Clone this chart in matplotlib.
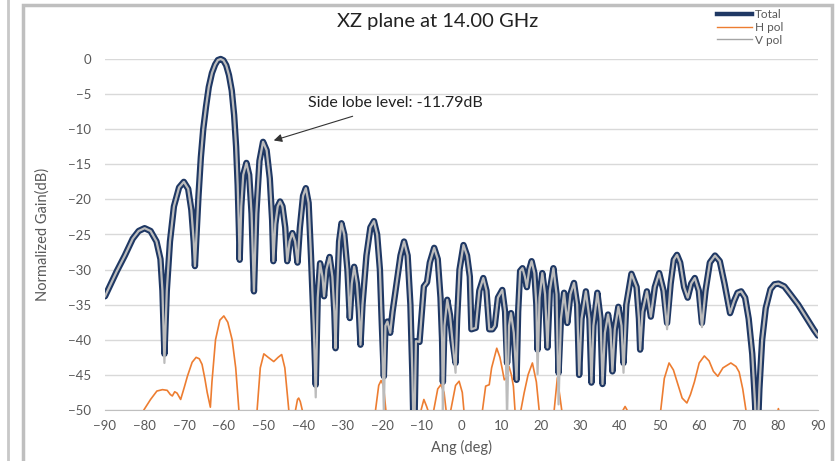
import matplotlib
matplotlib.use("Agg")
import matplotlib.pyplot as plt
from matplotlib.patches import Rectangle
from matplotlib.lines import Line2D

plt.rcParams['font.family'] = ['Lato', 'DejaVu Sans']

# ---------------- data ----------------
total_ang = [-90, -88.5, -87, -85, -83, -81.5, -80, -78.5, -77, -76, -75.5, -75, -74.4, -73.6,
             -72.6, -71.3, -70.1, -69, -68.2, -67.6, -67.3, -66.9, -66.4, -65.8, -65.2, -64.5,
             -63.8, -63, -62.2, -61.5, -60.8, -60.1, -59.4, -58.7, -58, -57.4, -56.9, -56.5,
             -56.2, -56, -55.6, -55.1, -54.3,
             -53.6, -53, -52.4, -51.8, -51, -50.1, -49.2, -48.4, -47.8, -47.5, -47, -46.4,
             -45.8, -45.2, -44.5, -44, -43.4, -42.7, -42, -41.4, -40.8, -40, -39.3, -38.6,
             -38, -37.3, -36.8, -36.3, -35.7, -35.1, -34.7, -34.1, -33.3, -32.6, -32.1, -31.8,
             -31.4, -30.9, -30.3, -29.6, -28.8, -28.2, -27.7, -27.1, -26.4, -25.9, -25.5, -25,
             -24, -23, -22.1, -21.3, -20.6, -20.1, -19.6, -19.2, -18.7, -18, -17.4, -16.4,
             -15.4, -14.5, -13.6, -12.9, -12.4, -12.0, -11.5, -10.6, -10.0, -9.5, -8.7, -8.0,
             -6.9, -6.0, -5.3, -4.9, -4.7, -4.3, -3.6, -2.9, -2.3, -1.5, -1.1, -0.5, 0.5, 1.4,
             2.1, 2.5, 3.6, 4.5, 5.5, 6.3, 7.0, 7.8, 8.4, 9.2, 10.3, 11.0, 11.5, 12.0, 12.5,
             13.2, 13.9, 14.3, 14.8, 15.4, 16.0, 16.5, 17.1, 17.7, 18.4, 18.9, 19.2, 19.7,
             20.4, 21.1, 21.7, 22.3, 23.2, 24.0, 24.5, 25.1, 25.9, 26.7, 27.5, 28.4, 29.2,
             29.7, 30.3, 31.4, 32.3, 32.8, 33.3, 34.3, 35.1, 35.6, 36.2, 37.0, 37.6, 38.1,
             38.7, 39.6, 40.4, 40.9, 41.6, 42.9, 44.2, 44.8, 45.1, 45.7, 46.8, 47.8, 48.8,
             49.9, 51.0, 51.9, 52.8, 53.6, 54.4, 55.2, 56.2, 57.1, 58.0, 58.9, 59.9, 60.7,
             61.6, 62.7, 64.0, 65.2, 66.4, 67.8, 68.8, 69.7, 70.6, 71.6, 72.5, 73.4, 74.1,
             74.6, 75.2, 75.9, 76.8, 78.0, 79.0, 80.0, 81.5, 83.0, 85.0, 87.0, 89.0, 90.0]
total_db = [-33.8, -32.0, -30.2, -28.0, -25.6, -24.5, -24.1, -24.5, -26.0, -28.5, -33.0, -42.0,
            -33.0, -26.0, -21.0, -18.3, -17.5, -18.5, -21.5, -26.0, -29.5, -25.0, -19.5, -14.0,
            -10.0, -6.8, -4.0, -2.0, -0.8, -0.15, 0.0, -0.2, -0.9, -2.3, -4.5, -8.0, -12.5,
            -18.0, -24.0, -28.6, -21.0, -16.5,
            -14.8, -16.5, -22.0, -33.1, -22.0, -14.5, -11.8, -13.0, -17.0, -23.0, -28.8, -23.5,
            -21.0, -20.3, -21.0, -24.0, -28.8, -26.0, -24.8, -26.0, -29.0, -24.0, -19.5, -18.4,
            -20.5, -28.0, -38.0, -46.4, -34.0, -29.1, -31.0, -33.8, -30.0, -28.2, -31.0, -36.0,
            -41.2, -33.0, -26.0, -23.4, -25.0, -30.0, -36.9, -32.0, -29.6, -32.0, -36.0, -40.7,
            -35.0, -28.0, -24.0, -23.1, -25.0, -30.0, -38.0, -45.2, -38.0, -37.4, -39.0, -36.0,
            -32.0, -28.0, -26.0, -28.0, -35.0, -45.0, -56.0, -40.2, -40.3, -36.0, -32.4, -31.8,
            -29.0, -26.9, -28.5, -34.0, -40.0, -46.0, -38.0, -34.3, -36.5, -40.0, -43.3, -37.0,
            -30.0, -26.5, -28.0, -31.0, -38.5, -38.3, -33.0, -31.2, -33.0, -38.5, -38.5, -38.0,
            -34.0, -32.9, -36.0, -43.3, -38.0, -36.2, -39.0, -45.7, -36.0, -30.2, -29.8, -31.0,
            -32.5, -30.0, -28.8, -30.5, -35.0, -41.4, -34.0, -30.5, -33.5, -41.1, -33.0, -29.8,
            -33.5, -44.7, -37.0, -33.3, -37.6, -33.5, -31.9, -35.0, -45.0, -37.0, -33.1, -37.0,
            -46.1, -38.0, -33.3, -37.0, -46.3, -39.0, -36.4, -38.5, -44.5, -38.5, -35.3, -38.0,
            -43.3, -35.0, -30.6, -32.5, -37.0, -41.4, -36.0, -33.1, -36.7, -32.5, -30.5, -33.0,
            -37.6, -32.0, -28.6, -27.9, -29.0, -32.5, -34.0, -32.0, -31.2, -33.0, -37.6, -33.0,
            -29.0, -28.0, -28.8, -32.0, -36.2, -34.5, -33.3, -33.1, -34.0, -37.0, -42.0, -49.0,
            -56.0, -47.0, -40.0, -35.5, -32.8, -32.1, -32.0, -32.4, -33.5, -35.0, -36.8, -38.6,
            -39.4]

# V pol follows Total except at some nulls, where it dips deeper
vpol_null_ang = [-75, -36.8, -19.6, -4.7, -1.5, 11.5, 19.2, 24.5, 40.9, 51.9, 60.7]
vpol_null_db = [-43.3, -48.2, -50.5, -51.0, -44.7, -51.0, -44.9, -49.2, -44.7, -38.5, -38.2]
vpol_null = dict(zip(vpol_null_ang, vpol_null_db))
vpol_db = [vpol_null.get(a, d) for a, d in zip(total_ang, total_db)]

hpol_ang = [-82, -80.2, -78.5, -76.9, -75.5, -74.3, -73.5, -73, -72.4, -71.8, -70.9, -70, -69.2,
            -68, -67, -66.2, -65.5, -64.8, -64.2, -63.4, -63, -62.1, -61, -60, -59, -57.9, -57,
            -56.2, -55.8, -52, -51.6, -50.8, -49.9, -48.8, -47.4, -46.3, -45.4, -44.6, -43.6,
            -43.3, -42.2, -41.9, -41.4, -41.1, -40.7, -40.2, -39.8, -22, -21.7, -20.9, -20.3,
            -19.7, -19.1, -18.8, -10.6, -10.2, -9.5, -8.8, -8.5, -8.2, -7.4, -7, -6, -5.2, -4.4,
            -3.9, -3.6, -3, -2.7, -1.5, -0.6, 0.2, 0.6, 0.9, 4.8, 5.3, 6.1, 7, 7.6, 8.9, 9.7,
            10.3, 10.8, 11.4, 12, 12.6, 13.1, 13.5, 13.8, 14.7, 15, 15.8, 16.8, 17.9, 18.9, 19.6,
            19.9, 23.1, 23.4, 24.2, 25.3, 25.6, 40.3, 40.8, 41.3, 41.8, 42.3, 49.8, 50.3, 51.2,
            52.4, 53.5, 54.5, 55.7, 56.9, 57.8, 58.8, 60, 61.3, 62.5, 63.6, 64.7, 66, 68, 69.3,
            70.1, 71, 71.8, 72.2, 79.5, 80, 80.5]
hpol_db = [-55, -50, -48.5, -47.3, -47.1, -47.2, -47.8, -48, -47.4, -47.6, -48.5, -46.8, -45.2,
           -43.2, -42.5, -42.7, -43.5, -45.5, -47.5, -49.6, -46, -40, -37.2, -36.6, -37.5, -40,
           -44, -50, -58, -58, -50, -44, -42, -42.5, -43.1, -42.5, -42.1, -44, -50, -56, -55,
           -50, -48.5, -48.3, -48.8, -50, -56, -56, -50, -46.5, -45.8, -46.5, -50, -56, -55, -50,
           -48.5, -49.5, -50, -55, -55, -50, -47, -46.4, -47.5, -50, -55, -55, -50, -46.5, -45.9,
           -47.5, -50, -55, -55, -50, -46.6, -46.4, -44, -41.2, -42.5, -44.2, -45.7, -45.4, -43.8,
           -45, -46.6, -50, -55, -55, -50, -47.6, -45, -43.3, -46, -50, -55, -55, -50, -45.4, -50,
           -55, -52, -50, -49.5, -50, -52, -55, -50, -45.5, -43.3, -44.3, -46.1, -48.3, -49,
           -47.8, -46, -43.3, -42.3, -43, -44.5, -45.2, -44, -43.3, -43.8, -44.6, -47, -50, -55,
           -51, -49.8, -51]

x_ticks = list(range(-90, 91, 10))
y_ticks = list(range(-50, 1, 5))
sll_text = 'Side lobe level: -11.79dB'

navy = '#1f3864'
orange = '#ed7d31'
gray = '#bcbcbc'
txt = '#595959'

# ---------------- figure ----------------
fig = plt.figure(figsize=(8.39, 4.61), dpi=100)
ax = fig.add_axes([105/839, 1-410/461, (818-105)/839, (410-59)/461])

# clip only at the bottom of the plot so the main beam top is not cut off
clip_box = Rectangle((0, 0), 1, 1.1, transform=ax.transAxes)

l_tot, = ax.plot(total_ang, total_db, color=navy, lw=4.6, solid_joinstyle='round',
                 solid_capstyle='round', label='Total', zorder=3)
l_h, = ax.plot(hpol_ang, hpol_db, color=orange, lw=1.2, label='H pol', zorder=4)
l_v, = ax.plot(total_ang, vpol_db, color=gray, lw=1.6, solid_joinstyle='round',
               label='V pol', zorder=5)
for ln in (l_tot, l_h, l_v):
    ln.set_clip_path(clip_box)

ax.set_xlim(-90, 90)
ax.set_ylim(-50, 0)
ax.set_xticks(x_ticks)
ax.set_yticks(y_ticks)
ax.tick_params(length=0, labelsize=9.5, colors=txt)
ax.tick_params(axis='x', pad=7)
ax.tick_params(axis='y', pad=10)
ax.grid(True, axis='y', color='#d9d9d9', lw=1)
ax.set_axisbelow(True)
for s in ['top', 'right', 'left']:
    ax.spines[s].set_visible(False)
ax.spines['bottom'].set_color('#bfbfbf')
ax.set_xlabel('Ang (deg)', fontsize=10.5, color=txt)
ax.set_ylabel('Normalized Gain(dB)', fontsize=10.5, color=txt)
ax.xaxis.set_label_coords(0.5, -0.085)
ax.yaxis.set_label_coords(-0.078, 0.5)

fig.text(438/839, 1-22/461, 'XZ plane at 14.00 GHz', ha='center', va='center',
         fontsize=14.5, color='#222222')

# side lobe annotation
ax.annotate(sll_text, xy=(-47.4, -11.6), xytext=(-38.8, -6.3), fontsize=11.5,
            color='#222222', va='center', ha='left',
            arrowprops=dict(arrowstyle='-|>', color='#333333', lw=0.8,
                            mutation_scale=12, shrinkA=8, shrinkB=0))

# legend
handles = [Line2D([], [], color=navy, lw=3.2),
           Line2D([], [], color=orange, lw=1),
           Line2D([], [], color='#a5a5a5', lw=1)]
ax.legend(handles, ['Total', 'H pol', 'V pol'], loc='upper left',
          bbox_to_anchor=(717/839, 1-9/461), bbox_transform=fig.transFigure,
          frameon=False, fontsize=8.5, handlelength=3.0, handletextpad=0.2,
          labelspacing=0.15, borderpad=0, borderaxespad=0, labelcolor=txt)

# chart frame
fig.add_artist(Rectangle((23/839, -0.05), (832-23)/839, 1.05-5/461,
                         transform=fig.transFigure, fill=False,
                         edgecolor='#bfbfbf', lw=2.5))
fig.add_artist(Line2D([8/839, 8/839], [0, 1], transform=fig.transFigure,
                      color='#c8c8c8', lw=2))

fig.savefig('out.png', dpi=100)
